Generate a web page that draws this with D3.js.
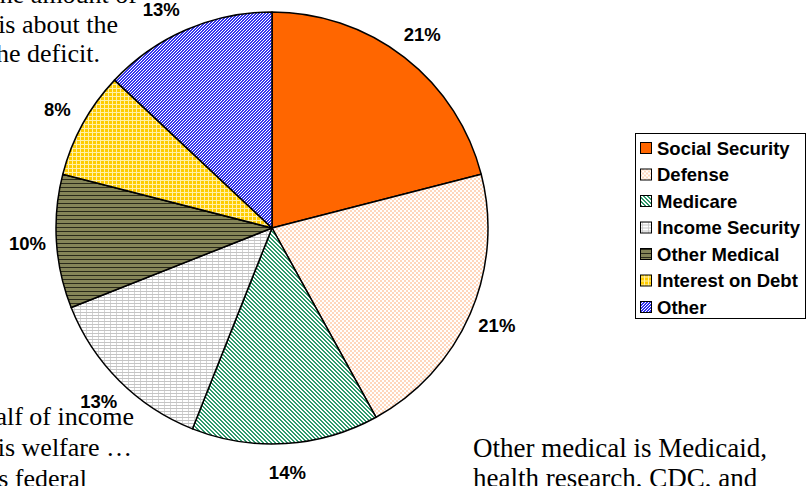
<!DOCTYPE html>
<html>
<head>
<meta charset="utf-8">
<script src="https://cdn.jsdelivr.net/npm/d3@7"></script>
<style>
  html, body { margin: 0; padding: 0; background: #fff; }
  svg { display: block; }
</style>
</head>
<body>
<svg id="chart" width="809" height="486"></svg>
<script>
// Federal spending shares, clockwise from 12 o'clock
const categories = ["Social Security", "Defense", "Medicare", "Income Security", "Other Medical", "Interest on Debt", "Other"];
const shares = [21, 21, 14, 13, 10, 8, 13];
const patternIds = ["fill-ss", "fill-def", "fill-med", "fill-inc", "fill-othmed", "fill-int", "fill-other"];

// Slide notes partly running off the left edge
const notesTopLeft = ["the amount of", "is about the", "the deficit."];
const notesBottomLeft = ["Half of income", "is welfare …", "is federal"];
const notesBottomRight = ["Other medical is Medicaid,", "health research, CDC, and"];

const W = 809, H = 486;
const cx = 272, cy = 228, R = 216;

const svg = d3.select("#chart");
svg.append("rect").attr("width", W).attr("height", H).attr("fill", "#fff");

// ---- fill patterns ----
const defs = svg.append("defs");
function pattern(id, w, h, bg, cells) {
  const p = defs.append("pattern")
    .attr("id", id).attr("patternUnits", "userSpaceOnUse")
    .attr("width", w).attr("height", h);
  p.append("rect").attr("width", w).attr("height", h).attr("fill", bg)
    .attr("shape-rendering", "crispEdges");
  cells.forEach(c => p.append("rect")
    .attr("x", c[0]).attr("y", c[1]).attr("width", c[2]).attr("height", c[3])
    .attr("fill", c[4]).attr("shape-rendering", "crispEdges"));
}
// solid orange
pattern("fill-ss", 4, 4, "#ff6600", []);
// pale peach checker
pattern("fill-def", 4, 4, "#ffffff", [[0, 0, 2, 2, "#ffd6bc"], [2, 2, 2, 2, "#ffd6bc"]]);
// green downward diagonal
(function () {
  const g = "#2f9a6c", cells = [];
  for (let i = 0; i < 4; i++) {
    cells.push([i, i, 1, 1, g]);
    cells.push([(i + 1) % 4, i, 1, 1, g]);
  }
  pattern("fill-med", 4, 4, "#ffffff", cells);
})();
// light grey brick grid
pattern("fill-inc", 6, 3, "#ffffff", [[0, 0, 6, 1, "#c4c4c4"], [0, 1, 1, 2, "#d4d4d4"]]);
// olive with dark horizontal rules
pattern("fill-othmed", 4, 4, "#858558", [[0, 3, 4, 1, "#2a2a1a"]]);
// yellow with light grid
pattern("fill-int", 4, 4, "#ffcc00", [[0, 0, 4, 1, "#fff0a8"], [0, 1, 1, 3, "#fff0a8"]]);
// blue upward diagonal
(function () {
  const b = "#3333ee", cells = [];
  for (let i = 0; i < 3; i++) {
    cells.push([(2 - i + 3) % 3, i, 1, 1, b]);
    cells.push([(3 - i + 3) % 3, i, 1, 1, b]);
  }
  pattern("fill-other", 3, 3, "#ffffff", cells);
})();

// ---- notes (drawn beneath the pie) ----
const serif = "'Liberation Serif', 'Times New Roman', serif";
const noteTL = svg.append("g").attr("font-family", serif).attr("font-size", 26).attr("fill", "#000")
  .attr("text-anchor", "end");
const tlRight = [137, 118, 100], tlBase = [3, 33, 62];
notesTopLeft.forEach((t, i) => noteTL.append("text").attr("x", tlRight[i]).attr("y", tlBase[i]).text(t));

const noteBL = svg.append("g").attr("font-family", serif).attr("font-size", 26).attr("fill", "#000")
  .attr("text-anchor", "end");
const blRight = [134, 132, 87], blBase = [425, 456, 487];
notesBottomLeft.forEach((t, i) => noteBL.append("text").attr("x", blRight[i]).attr("y", blBase[i]).text(t));

const noteBR = svg.append("g").attr("font-family", serif).attr("font-size", 27).attr("fill", "#000");
notesBottomRight.forEach((t, i) => noteBR.append("text").attr("x", 473).attr("y", 457 + i * 30).text(t));

// ---- pie ----
const pie = d3.pie().sort(null).value(d => d.value);
const data = categories.map((c, i) => ({ name: c, value: shares[i], fill: patternIds[i] }));
const arcs = pie(data);
const arc = d3.arc().innerRadius(0).outerRadius(R);

const gPie = svg.append("g").attr("transform", `translate(${cx},${cy})`);
gPie.selectAll("path.slice").data(arcs).join("path")
  .attr("class", "slice")
  .attr("d", arc)
  .attr("fill", d => `url(#${d.data.fill})`)
  .attr("stroke", "#000")
  .attr("stroke-width", 1.5)
  .attr("stroke-linejoin", "round");

// percentage labels on a ring just outside the pie; a label that would
// leave the top of the canvas slides along the ring until it fits
const sans = "'Liberation Sans', Arial, sans-serif";
const gLab = svg.append("g").attr("font-family", sans).attr("font-size", 18.5)
  .attr("font-weight", "bold").attr("fill", "#000").attr("text-anchor", "middle");
const labelR = R + 29, capH = 13, minCenterY = 9.5;
arcs.forEach(d => {
  let a = (d.startAngle + d.endAngle) / 2;
  if (cy - Math.cos(a) * labelR < minCenterY) {
    const lim = Math.acos((cy - minCenterY) / labelR);
    a = Math.sin(a) < 0 ? 2 * Math.PI - lim : lim;
  }
  const x = cx + Math.sin(a) * labelR;
  const y = cy - Math.cos(a) * labelR;
  gLab.append("text").attr("x", x).attr("y", y + capH / 2).text(d.data.value + "%");
});

// ---- legend ----
const lg = svg.append("g");
lg.append("rect").attr("x", 635.5).attr("y", 133.5).attr("width", 170).attr("height", 185)
  .attr("fill", "#fff").attr("stroke", "#000").attr("stroke-width", 1);
const rowY = d3.scalePoint().domain(categories).range([148, 307]);
const rows = lg.selectAll("g.row").data(data).join("g").attr("class", "row")
  .attr("transform", d => `translate(0,${rowY(d.name)})`);
rows.append("rect").attr("x", 640.5).attr("y", -5.5).attr("width", 11).attr("height", 11)
  .attr("fill", d => `url(#${d.fill})`).attr("stroke", "#000").attr("stroke-width", 1);
rows.append("text").attr("x", 657).attr("y", 6.5)
  .attr("font-family", sans).attr("font-size", 18.5).attr("font-weight", "bold")
  .attr("fill", "#000").text(d => d.name);
</script>
</body>
</html>
